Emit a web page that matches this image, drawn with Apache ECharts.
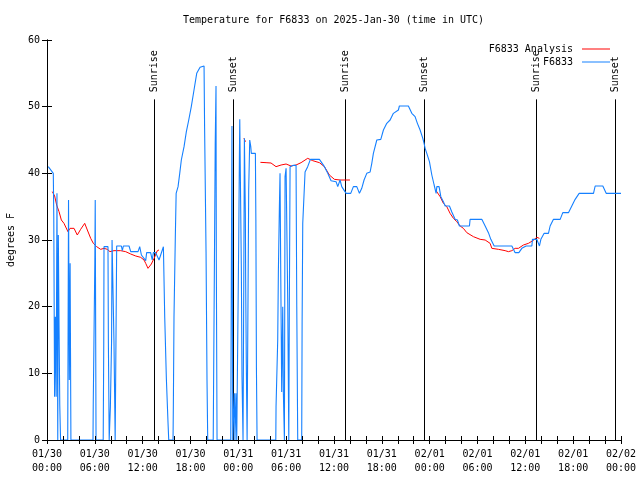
<!DOCTYPE html>
<html>
<head>
<meta charset="utf-8">
<script src="https://cdn.jsdelivr.net/npm/echarts@6/dist/echarts.min.js"></script>
<style>html,body{margin:0;padding:0;background:#fff}#c{width:640px;height:480px}</style>
</head>
<body>
<div id="c"></div>
<script>
// x = hours since 2025-01-30 00:00 UTC
const xTickLabels = ['01/30\n00:00','01/30\n06:00','01/30\n12:00','01/30\n18:00','01/31\n00:00','01/31\n06:00','01/31\n12:00','01/31\n18:00','02/01\n00:00','02/01\n06:00','02/01\n12:00','02/01\n18:00','02/02\n00:00'];
const yTickLabels = ['0','10','20','30','40','50','60'];

const sunTimes = [13.44, 23.33, 37.44, 47.25, 61.4, 71.3];
const sunLabels = ['Sunrise','Sunset','Sunrise','Sunset','Sunrise','Sunset'];

// F6833 Analysis (red); null marks a gap
const anaHours = [0.67,0.96,1.21,1.51,1.8,2.13,2.63,2.89,3.39,3.6,3.8,4.22,4.73,5.06,5.48,5.81,6.23,6.73,7.15,7.57,7.9,8.4,9.24,9.87,10.5,11.13,11.75,12.17,12.38,12.67,12.92,13.09,13.43,13.84,14.05,
  14.3,
  24.7,24.9,
  25.5,
  26.77,27.48,28.1,28.73,29.36,29.99,30.61,31.24,31.87,32.7,33.33,34.17,34.8,35.42,36.05,36.76,37.4,38.0,
  43.0,
  48.75,48.81,49.31,49.72,50.15,50.56,50.98,51.4,51.82,52.23,52.66,53.49,54.33,54.96,55.58,55.8,56.63,57.47,57.88,58.31,58.72,59.14,59.76,60.39,60.94,61.44,61.77];
const anaTemps = [37.25,36.6,35.25,34.25,33,32.5,31.25,31.75,31.75,31.5,30.75,31.6,32.5,31.5,30.25,29.5,29,28.6,28.75,28.6,28.25,28.4,28.4,28.25,27.9,27.6,27.4,27,26.5,25.75,25.6,26.4,27.25,28.4,28.5,
  null,
  45.25,44.75,
  null,
  41.65,41.6,41.55,41,41.25,41.4,41.1,41.25,41.6,42.25,41.9,41.6,41,39.75,39.1,39,39,39,
  null,
  37.5,37.25,36.5,35.5,35,34,33.25,32.75,32.1,31.75,31.1,30.5,30.1,30,29.5,28.75,28.6,28.4,28.25,28.4,28.75,28.75,29.25,29.5,29.9,30.4,30.25];

// F6833 observations (blue)
const obsHours = [0.16,0.79,0.85,0.95,1.05,1.15,1.25,1.35,1.42,1.5,1.6,1.7,
  2.6,2.65,2.7,2.8,2.9,2.95,3.0,
  5.77,5.8,5.9,6.0,6.05,6.15,
  7.05,7.12,7.15,7.65,7.7,7.8,7.95,8.1,8.16,8.32,8.4,8.5,8.55,8.65,8.74,9.33,9.45,9.58,10.29,10.5,11.42,11.63,11.84,12.09,12.38,12.5,12.67,13.0,13.2,13.34,13.63,13.84,14.05,14.26,14.6,
  14.77,14.97,15.18,15.27,
  15.81,15.85,15.93,16.1,16.2,16.44,16.65,16.85,17.19,17.48,17.78,18.1,18.44,18.78,19.2,19.41,19.7,19.77,19.95,20.07,20.16,
  20.85,20.9,21.0,21.1,21.2,21.24,21.33,
  23.05,23.12,23.2,23.3,23.45,23.5,23.58,23.7,23.8,23.98,24.05,24.13,24.18,24.3,24.38,24.46,24.59,24.68,24.76,24.88,24.92,25.0,25.1,25.25,25.3,25.43,25.56,25.63,26.14,26.2,26.27,26.35,
  28.7,28.73,28.94,29.02,29.15,29.23,29.32,29.44,29.57,29.65,29.78,29.86,29.99,30.11,30.2,30.33,30.4,30.49,30.74,30.9,31.24,31.33,31.45,
  31.95,32.0,32.08,32.37,32.7,33.04,34.17,34.8,35.22,35.63,36.26,36.47,36.55,36.76,36.97,37.2,37.52,38.1,38.43,38.86,39.19,39.48,39.77,40.11,40.53,40.74,40.94,41.37,41.87,42.2,42.62,43.04,43.45,44.08,44.2,45.33,45.76,46.17,46.46,46.8,47.14,47.3,47.43,47.64,47.97,48.27,48.56,48.81,48.9,49.18,49.4,49.72,49.94,50.48,50.78,51.19,51.48,51.73,52.99,53.07,54.54,54.96,55.37,55.67,56.09,58.31,58.72,59.19,59.56,60.1,60.82,60.89,61.44,61.77,61.95,62.36,62.9,63.11,63.53,64.37,64.7,65.41,65.83,66.25,66.75,68.55,68.76,69.72,70.14,72];
const obsTemps = [41,40,33.5,6.5,18.5,6.5,37,0,30.75,18.5,5.3,0,
  0,18,36,9,26.5,13,0,
  0,5.25,16,26.75,36,0,
  0,14.6,29,29,14.6,0,5,14.8,30,30,14.8,5,0,14.8,29.1,29.1,28.4,29.1,29.1,28.25,28.25,29,27.75,27.6,26.9,28.1,28.1,28.1,27,28.1,28.1,27.8,27,27.75,29,
  18.3,9.3,2.6,0,
  0,5.3,18.5,30.75,37,38,40,42,44,46.25,48,50,52.5,55,55.9,56.1,56.1,46.75,28.25,9,0,
  0,9,26.5,44.25,53.1,26.5,0,
  0,23.5,47.1,0,0,7,0,7,0,0,30.1,42,48.1,48.1,25.25,9.5,0,22.75,45.25,34,24,11.5,0,0,37.5,45,44,43,43,33,10.75,0,
  0,5,15,25,35,40,25,7.2,20,7,0,39.5,40.75,41,20.5,0,20.5,41,41,41.2,41.2,20,0,
  0,17.5,32.5,40.2,41,42.1,42.1,41,40,38.9,38.75,38,38,39,38,38,37,37,38,38,37,37.75,39,40,40.2,41.5,43,45,45.1,46.5,47.5,48,49,49.5,50.1,50.1,49,48.5,47.5,46.5,45.25,44.5,43.75,43,41.75,39.75,38.25,37,38,38,36.5,35.75,35.1,35.1,34.2,33.1,33,32.1,32.1,33.1,33.1,32.1,31.1,30.1,29.1,29.1,28.1,28.1,28.75,29.1,29.1,30.1,30.1,29.1,30.1,31,31,32.1,33.1,33.1,34.1,34.1,35.1,36.1,37,37,38.1,38.1,37,37];

const FONT = 'DejaVu Sans Mono';
const anaData = anaHours.map((h, i) => [h, anaTemps[i]]);
const obsData = obsHours.map((h, i) => [h, obsTemps[i]]);
const sunData = sunTimes.map((t) => [t, 0]);

const chart = echarts.init(document.getElementById('c'), null, {renderer: 'canvas'});
const baseX = {
  type: 'value', min: 0, max: 72, interval: 6,
  splitLine: {show: false},
  axisLine: {show: true, lineStyle: {color: '#000', width: 1}},
  axisTick: {show: true, inside: true, length: 4, lineStyle: {color: '#000'}},
  minorTick: {show: true, splitNumber: 3, length: 4, lineStyle: {color: '#000'}},
  z: 10
};
const baseY = {
  type: 'value', min: 0, max: 60, interval: 10,
  splitLine: {show: false},
  axisLine: {show: true, lineStyle: {color: '#000', width: 1}},
  axisTick: {show: true, inside: true, length: 5, lineStyle: {color: '#000'}},
  z: 10
};
chart.setOption({
  animation: false,
  backgroundColor: '#fff',
  title: {
    text: 'Temperature for F6833 on 2025-Jan-30 (time in UTC)',
    left: 183, top: 15, padding: 0,
    textStyle: {fontFamily: FONT, fontSize: 10, fontWeight: 'normal', color: '#000'}
  },
  legend: {
    data: ['F6833 Analysis', 'F6833'],
    orient: 'vertical', align: 'right',
    right: 30, top: 43, padding: 0,
    itemWidth: 28, itemHeight: 1, itemGap: 1,
    icon: 'rect',
    textStyle: {fontFamily: FONT, fontSize: 10, color: '#000', lineHeight: 12, padding: [0, 4, 0, 0]}
  },
  grid: {left: 47, right: 19, top: 40, bottom: 40, containLabel: false, outerBoundsMode: 'none'},
  xAxis: [
    Object.assign({}, baseX, {
      position: 'bottom',
      axisLabel: {show: true, margin: 7, fontFamily: FONT, fontSize: 10, color: '#000', lineHeight: 14,
        formatter: (v) => xTickLabels[Math.round(v / 6)]}
    }),
    Object.assign({}, baseX, {position: 'top', axisLabel: {show: false}})
  ],
  yAxis: [
    Object.assign({}, baseY, {
      position: 'left',
      name: 'degrees F', nameLocation: 'middle', nameGap: 31,
      nameTextStyle: {fontFamily: FONT, fontSize: 10, color: '#000'},
      axisLabel: {show: true, margin: 7, fontFamily: FONT, fontSize: 10, color: '#000',
        formatter: (v) => yTickLabels[Math.round(v / 10)]}
    }),
    Object.assign({}, baseY, {position: 'right', axisLabel: {show: false}})
  ],
  series: [
    {
      type: 'custom', name: 'sun', silent: true, clip: false,
      data: sunData,
      renderItem: (params, api) => {
        const t = api.value(0);
        const p0 = api.coord([t, 0]);
        const p1 = api.coord([t, 51.1]);
        const x = Math.round(p0[0]) + 0.5;
        return {
          type: 'group',
          children: [
            {type: 'line', shape: {x1: x, y1: p0[1], x2: x, y2: p1[1]}, style: {stroke: '#000', lineWidth: 1}},
            {type: 'text', x: x, y: p1[1] - 7, rotation: Math.PI / 2,
              style: {text: sunLabels[params.dataIndex], font: '10px "' + FONT + '"', fill: '#000', align: 'left', verticalAlign: 'middle'}}
          ]
        };
      }
    },
    {
      type: 'line', name: 'F6833 Analysis', data: anaData,
      symbol: 'none', connectNulls: false,
      itemStyle: {color: '#ff0000'},
      lineStyle: {color: '#ff0000', width: 1}
    },
    {
      type: 'line', name: 'F6833', data: obsData,
      symbol: 'none',
      itemStyle: {color: '#1580ff'},
      lineStyle: {color: '#1580ff', width: 1.1}
    }
  ]
});
</script>
</body>
</html>
